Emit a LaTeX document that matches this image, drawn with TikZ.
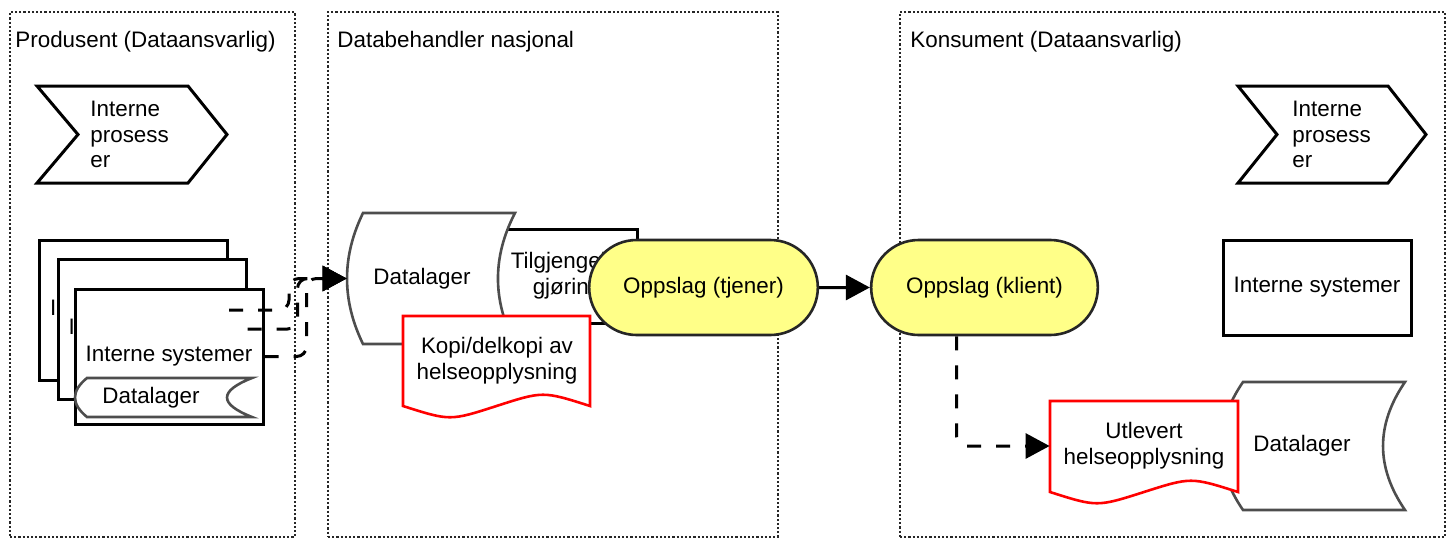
\documentclass[tikz,border=0pt]{standalone}
\usepackage{fontspec}
\setmainfont{Liberation Sans}
\usetikzlibrary{arrows.meta,shapes.misc}
\definecolor{zonegray}{HTML}{262626}
\definecolor{storegray}{HTML}{4D4D4D}
\definecolor{lookupfill}{HTML}{FFFF88}

\begin{document}
\begin{tikzpicture}[
    x=0.5pt, y=-0.5pt,
    >={Triangle[length=12pt,width=12.5pt]},
    font=\fontsize{11.2}{12.8}\selectfont,
    zone/.style={
		rectangle,
		draw=zonegray,
		line width=1.25pt,
		dash pattern=on 1.1pt off 1pt
	},
    zonetitle/.style={
		anchor=base west,
		inner sep=0pt
	},
    process/.style={
		draw=black,
		line width=1.5pt,
		fill=white,
		line join=miter
	},
    system/.style={
		rectangle,
		draw=black,
		line width=1.5pt,
		fill=white,
		align=center,
		minimum width=94pt
	},
    store/.style={
		draw=storegray,
		line width=1.3pt,
		fill=white
	},
    document/.style={
		draw=red,
		line width=1.3pt,
		fill=white
	},
    txt/.style={
		inner sep=0pt,
		align=center
	},
    lookup/.style={
		rounded rectangle,
		draw=zonegray,
		line width=1.3pt,
		fill=lookupfill,
		minimum height=47.5pt
	},
    flow/.style={
		line width=1.5pt,
		->
	},
    dataflow/.style={
		flow,
		dash pattern=on 7pt off 7.5pt,
		rounded corners=5pt
	}
  ]
  \useasboundingbox (0,0) rectangle (1453,547);

  % the three zones
  \node [zone, minimum width=142.5pt, minimum height=262.5pt] (prodZone) at (152.5,274.5) {};
  \node [zone, minimum width=225pt, minimum height=262.5pt] (midZone) at (553,274.5) {};
  \node [zone, minimum width=272.5pt, minimum height=262.5pt] (konsZone) at (1172.5,274.5) {};

  \node [zonetitle] (prodTitle) at (15,47) {Produsent (Dataansvarlig)};
  \node [zonetitle] (midTitle) at (337,47) {Databehandler nasjonal};
  \node [zonetitle] (konsTitle) at (910,47) {Konsument (Dataansvarlig)};

  % produsent
  \draw [process] (37,86) -- (188,86) -- (227,134.5) -- (188,183) -- (37,183) -- (78,134.5) -- cycle;
  \node [txt, align=left, anchor=west] (prodProc) at (90,134.5) {Interne\\prosess\\er};

  \node [system, minimum height=70pt] (sys1) at (133.5,310) {Interne systemer};
  \node [system, minimum height=70pt] (sys2) at (152,329) {Interne systemer};
  \node [system, minimum height=67.5pt] (sys3) at (169,356.5) {Interne systemer};

  \draw [store] (87,378) -- (252,378) .. controls (218.7,391) and (218.7,404) .. (252,417)
     -- (87,417) .. controls (71,404) and (71,391) .. (87,378) -- cycle;
  \node [txt, minimum width=76pt, minimum height=19.5pt] (prodStore) at (151,397.5) {Datalager};

  % databehandler
  \node [system, minimum width=70pt, minimum height=47pt] (access) at (567,276) {Tilgjengelig\\gjøring};

  \draw [store] (363,213) -- (515,213) .. controls (492.3,256.7) and (492.3,300.3) .. (515,344)
     -- (363,344) .. controls (341.7,300.3) and (341.7,256.7) .. (363,213) -- cycle;
  \node [txt, minimum width=75pt, minimum height=65.5pt] (midStore) at (422,278.5) {Datalager};

  \draw [document] (403,316) -- (590,316) -- (590,406) .. controls (543,391) .. (496.5,406)
     .. controls (450,421) .. (403,406) -- cycle;
  \node [txt] (copyDoc) at (497,361) {Kopi/delkopi av\\helseopplysning};

  \node [lookup, minimum width=121pt] (tjener) at (703.5,287.5) {Oppslag (tjener)};

  % konsument
  \node [lookup, minimum width=120pt] (klient) at (984.5,287.5) {Oppslag (klient)};

  \draw [process] (1238,86) -- (1388,86) -- (1426,134.5) -- (1388,183) -- (1238,183) -- (1277,134.5) -- cycle;
  \node [txt, align=left, anchor=west] (konsProc) at (1292,134.5) {Interne\\prosess\\er};

  \node [system, minimum height=47.5pt] (konsSys) at (1317,287.5) {Interne systemer};

  \draw [store] (1243,382) -- (1405,382) .. controls (1375.7,424.7) and (1375.7,467.3) .. (1405,510)
     -- (1243,510) .. controls (1213.7,467.3) and (1213.7,424.7) .. (1243,382) -- cycle;
  \node [txt] (konsStore) at (1302,446) {Datalager};

  \draw [document] (1050,401) -- (1238,401) -- (1238,492) .. controls (1191,477) .. (1144,492)
     .. controls (1097,507) .. (1050,492) -- cycle;
  \node [txt, minimum width=94pt] (utlevert) at (1144,446) {Utlevert\\helseopplysning};

  % connectors
  \draw [dataflow] (sys1.east) -- ++(60,0) |- (midStore.west);
  \draw [dataflow] (sys2.east) -- ++(50,0) |- (midStore.west);
  \draw [dataflow] (sys3.east) -- ++(42,0) |- (midStore.west);
  \draw [flow] (tjener) -- (klient);
  \draw [dataflow] ([xshift=-14pt]klient.south) |- (utlevert.west);

\end{tikzpicture}
\end{document}
